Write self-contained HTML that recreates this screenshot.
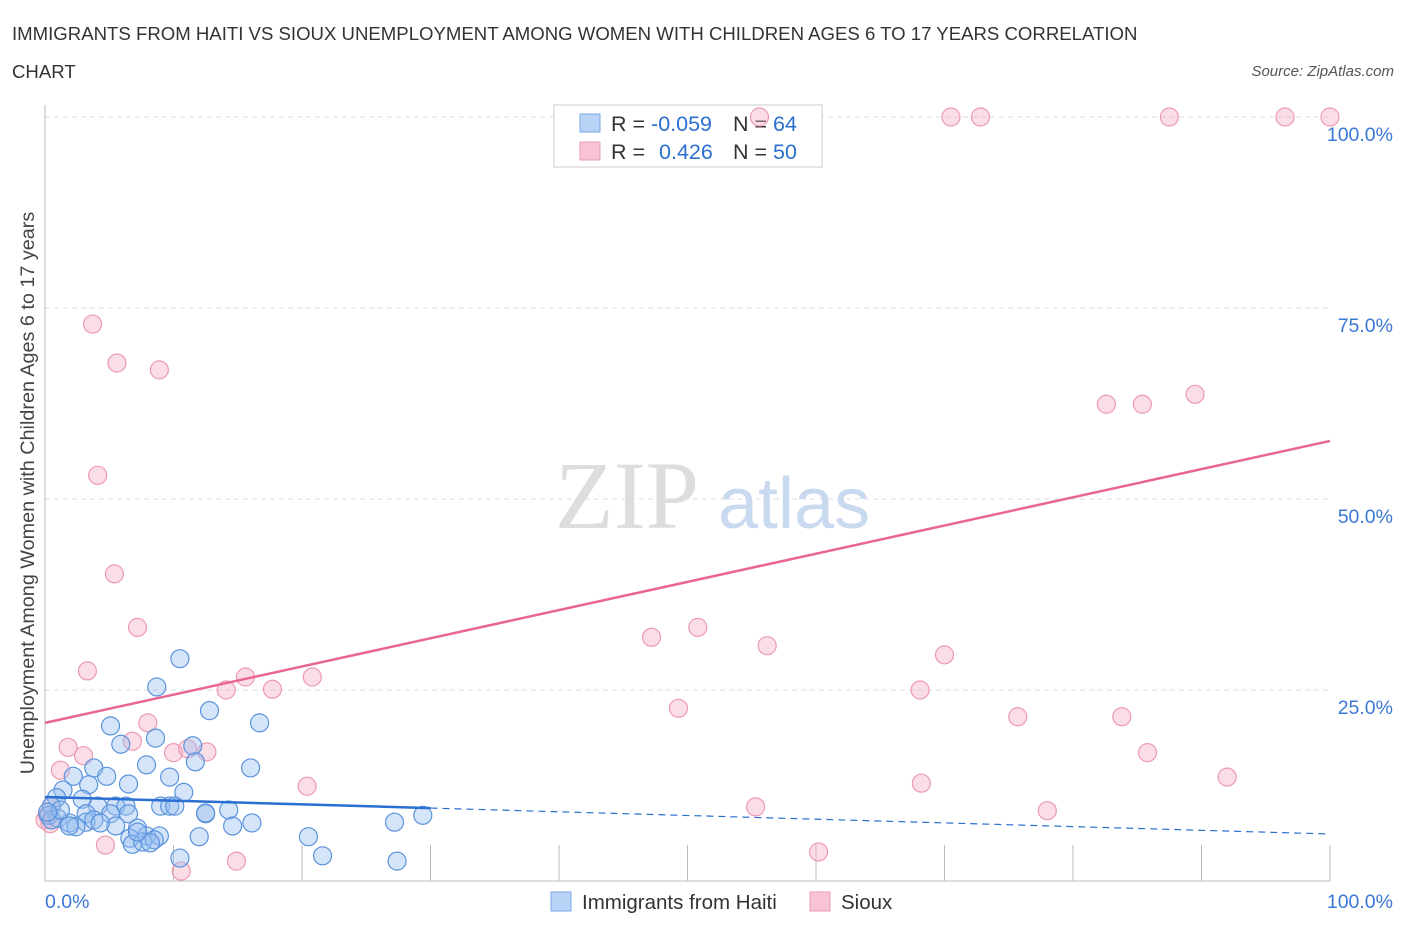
<!DOCTYPE html>
<html><head><meta charset="utf-8"><style>
body{margin:0;background:#fff;font-family:"Liberation Sans",sans-serif}
svg{display:block}
</style></head><body>
<svg width="1406" height="930" xmlns="http://www.w3.org/2000/svg" id="chart">
<text x="12" y="40" font-size="18.6" fill="#333">IMMIGRANTS FROM HAITI VS SIOUX UNEMPLOYMENT AMONG WOMEN WITH CHILDREN AGES 6 TO 17 YEARS CORRELATION</text>
<text x="12" y="78" font-size="18.6" fill="#333">CHART</text>
<text x="1394" y="76" font-size="15" fill="#555" font-style="italic" text-anchor="end">Source: ZipAtlas.com</text>
<text x="34" y="493" font-size="19.8" fill="#444" text-anchor="middle" transform="rotate(-90 34 493)">Unemployment Among Women with Children Ages 6 to 17 years</text>
<g id="grid"></g>
<text x="555" y="528" font-size="96" fill="#ddd" font-family="Liberation Serif,serif">ZIP</text>
<text x="718" y="528" font-size="72" fill="#c9daf0">atlas</text>
<g>
<rect x="554" y="105" width="268" height="62" fill="#fff" stroke="#ccc"/>
<rect x="580" y="114" width="20" height="18" fill="#b8d3f5" stroke="#7aa8e6"/>
<rect x="580" y="142" width="20" height="18" fill="#f8c3d3" stroke="#ec9ab2"/>
<text x="611" y="131" font-size="21.5" fill="#333">R = <tspan fill="#2c6fcf">-0.059</tspan></text>
<text x="733" y="131" font-size="21.5" fill="#333">N = <tspan fill="#2c6fcf">64</tspan></text>
<text x="611" y="159" font-size="21.5" fill="#333">R =  <tspan fill="#2c6fcf" dx="8">0.426</tspan></text>
<text x="733" y="159" font-size="21.5" fill="#333">N = <tspan fill="#2c6fcf">50</tspan></text>
</g>
<g id="marks"></g>
<g id="lines"></g>
<g>
<rect x="551" y="892" width="20" height="19" fill="#b8d3f5" stroke="#7aa8e6"/>
<text x="582" y="909" font-size="20.5" fill="#333">Immigrants from Haiti</text>
<rect x="810" y="892" width="20" height="19" fill="#f8c3d3" stroke="#ec9ab2"/>
<text x="841" y="909" font-size="20.5" fill="#333">Sioux</text>
</g>
</svg>
<script>
const yTicks=[25,50,75,100];
const yTickLabels=["25.0%","50.0%","75.0%","100.0%"];
const xTicks=[0,10,20,30,40,50,60,70,80,90,100];
const haitiX=[10.5,8.7,5.1,12.8,16.7,5.9,8.6,11.5,11.7,7.9,16.0,3.8,2.2,4.8,9.7,3.4,6.5,10.8,1.4,0.9,2.9,4.1,5.5,6.3,9.0,9.7,10.1,12.5,14.3,3.2,5.1,6.5,0.5,0.3,1.0,1.9,3.2,3.8,2.4,5.5,7.2,6.6,7.9,8.9,12.0,16.1,14.6,20.5,27.2,29.4,6.8,7.6,8.5,10.5,21.6,27.4,0.5,1.2,0.2,1.9,4.3,7.2,8.2,12.5];
const haitiY=[29.1,25.4,20.3,22.3,20.7,17.9,18.7,17.7,15.6,15.2,14.8,14.8,13.7,13.7,13.6,12.6,12.7,11.6,11.9,10.9,10.7,9.8,9.8,9.8,9.8,9.8,9.8,8.8,9.3,8.8,8.8,8.8,9.8,8.6,8.2,7.6,7.7,8.0,7.1,7.2,6.9,5.6,5.9,5.9,5.8,7.6,7.2,5.8,7.7,8.6,4.8,5.1,5.4,3.0,3.3,2.6,8.0,9.3,9.0,7.2,7.6,6.4,5.0,8.9];
const siouxX=[3.7,5.6,8.9,4.1,5.4,7.2,3.3,8.0,1.8,3.0,1.2,14.1,15.6,17.7,20.8,6.8,10.0,12.6,11.1,20.4,4.7,10.6,14.9,0.5,0.2,47.2,50.8,56.2,49.3,55.3,60.2,68.1,70.0,68.2,75.7,78.0,83.8,85.8,92.0,82.6,85.4,89.5,55.6,70.5,72.8,87.5,96.5,100,0,0.4];
const siouxY=[72.9,67.8,66.9,53.1,40.2,33.2,27.5,20.7,17.5,16.4,14.5,25.0,26.7,25.1,26.7,18.3,16.8,16.9,17.3,12.4,4.7,1.3,2.6,9.8,8.6,31.9,33.2,30.8,22.6,9.7,3.8,25.0,29.6,12.8,21.5,9.2,21.5,16.8,13.6,62.4,62.4,63.7,100,100,100,100,100,100,8.0,7.5];
const haitiTrend=[11.0,6.15];
const siouxTrend=[20.7,57.6];
const X0=45,X1=1330,Y0=881,Y100=117;
const sx=v=>X0+(X1-X0)*v/100;
const sy=v=>Y0-(Y0-Y100)*v/100;
const NS="http://www.w3.org/2000/svg";
function mk(tag,attrs,parent){const e=document.createElementNS(NS,tag);for(const k in attrs)e.setAttribute(k,attrs[k]);parent.appendChild(e);return e;}
const grid=document.getElementById('grid');
yTicks.forEach((t,i)=>{
 const l=mk('line',{x1:X0,x2:X1,y1:sy(t),y2:sy(t),stroke:'#ddd','stroke-dasharray':'5,4'},grid);
 
 
 const tx=mk('text',{x:1393,y:sy(t)+24,'font-size':19.5,fill:'#3a78d6','text-anchor':'end'},grid);
 tx.textContent=yTickLabels[i];
 
 
});
const ax=mk('line',{x1:X0,x2:X1,y1:Y0,y2:Y0,stroke:'#bbb'},grid);


const ay=mk('line',{x1:X0,x2:X0,y1:105,y2:Y0,stroke:'#bbb'},grid);


xTicks.forEach(t=>{
 const l=mk('line',{x1:sx(t),x2:sx(t),y1:845,y2:Y0,stroke:'#bbb'},grid);
 
 
});
const xl0=mk('text',{x:45,y:908,'font-size':19.5,fill:'#3a78d6'},grid);xl0.textContent='0.0%';


const xl1=mk('text',{x:1393,y:908,'font-size':19.5,fill:'#3a78d6','text-anchor':'end'},grid);xl1.textContent='100.0%';


const marks=document.getElementById('marks');
siouxX.forEach((v,i)=>{
 const c=mk('circle',{cx:sx(v),cy:sy(siouxY[i]),r:9,fill:'rgba(246,170,195,0.4)',stroke:'#ec9ab2','stroke-width':1.2},marks);
 
 
});
haitiX.forEach((v,i)=>{
 const c=mk('circle',{cx:sx(v),cy:sy(haitiY[i]),r:9,fill:'rgba(150,190,240,0.4)',stroke:'#5b93dc','stroke-width':1.2},marks);
 
 
});
const lines=document.getElementById('lines');
const hy=x=>haitiTrend[0]+(haitiTrend[1]-haitiTrend[0])*x/100;
const l1=mk('line',{x1:sx(0),y1:sy(hy(0)),x2:sx(30),y2:sy(hy(30)),stroke:'#2a6fd1','stroke-width':2.5},lines);


const l2=mk('line',{x1:sx(30),y1:sy(hy(30)),x2:sx(100),y2:sy(hy(100)),stroke:'#2a6fd1','stroke-width':1.2,'stroke-dasharray':'7,5'},lines);


const l3=mk('line',{x1:sx(0),y1:sy(siouxTrend[0]),x2:sx(100),y2:sy(siouxTrend[1]),stroke:'#e8668f','stroke-width':2.5},lines);


</script>
</body></html>
